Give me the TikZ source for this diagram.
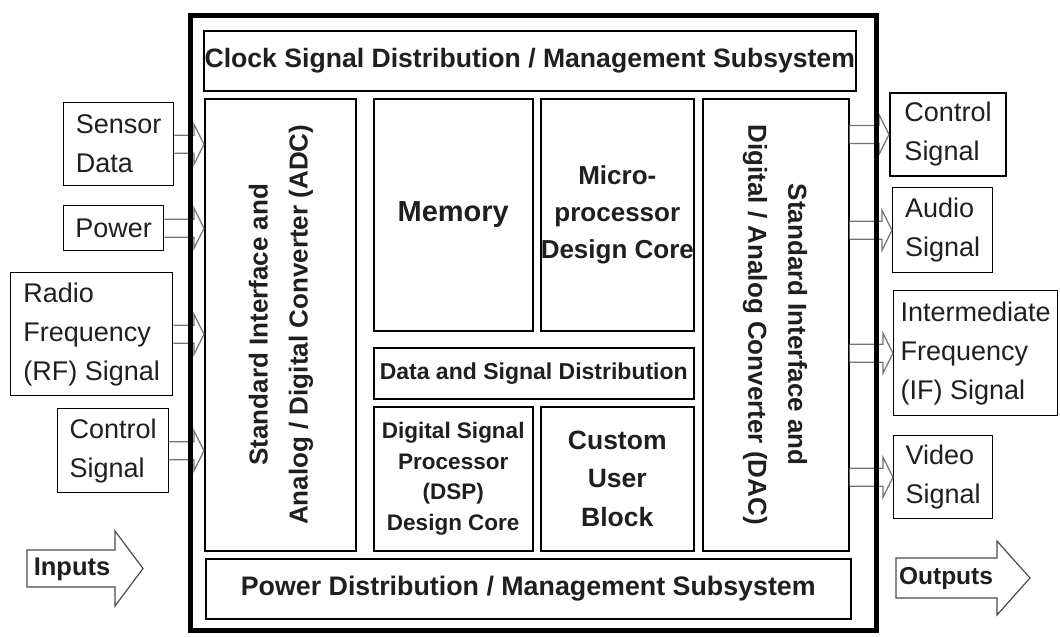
\documentclass[tikz,border=0pt]{standalone}
\usepackage{fontspec}
\setmainfont{Liberation Sans}
\usetikzlibrary{calc}
\newcommand\blockarr[2]{\draw[blk] let \p1=(#1), \p2=(#2) in
  (\x1,\y1+9pt) -- (\x2-10pt,\y1+9pt) -- (\x2-10pt,\y1+20pt) -- (\x2,\y1)
  -- (\x2-10pt,\y1-20pt) -- (\x2-10pt,\y1-9pt) -- (\x1,\y1-9pt);}
\begin{document}
\begin{tikzpicture}[x=1pt,y=-1pt,
  box/.style={draw=black, line width=1.5pt, inner sep=0pt, anchor=north west, align=center, text=black!88},
  blockbold/.style={box, font=\bfseries\fontsize{26}{37}\selectfont},
  lbl/.style={box, line width=1.4pt, align=left, font=\fontsize{27}{39}\selectfont},
  blk/.style={draw=black!55, fill=white, line width=1.2pt, line join=miter},
  bigarr/.style={draw=black!70, fill=white, line width=1.2pt, line join=miter},
]
\useasboundingbox (0,0) rectangle (1060,637);

% inner blocks
\node[blockbold, minimum width=652pt, minimum height=60pt, font=\bfseries\fontsize{26.6}{30}\selectfont] (clock) at (203,30) {Clock Signal Distribution / Management Subsystem};
\node[blockbold, minimum width=151pt, minimum height=452pt] (adc) at (204,98)
  {\rotatebox{90}{\begin{tabular}{@{}c@{}}Standard Interface and\\[3pt]Analog / Digital Converter (ADC)\end{tabular}}};
\node[blockbold, minimum width=159pt, minimum height=232pt, font=\bfseries\fontsize{29}{36}\selectfont] (mem) at (373,98) {Memory};
\node[blockbold, minimum width=153pt, minimum height=232pt] (micro) at (540,98) {Micro-\\processor\\Design Core};
\node[blockbold, minimum width=320pt, minimum height=51pt, font=\bfseries\fontsize{23}{30}\selectfont] (dsd) at (373,347) {Data and Signal Distribution};
\node[blockbold, minimum width=159pt, minimum height=144pt, font=\bfseries\fontsize{22.5}{30.5}\selectfont] (dsp) at (373,406) {Digital Signal\\Processor\\(DSP)\\Design Core};
\node[blockbold, minimum width=153pt, minimum height=144pt, font=\bfseries\fontsize{26.5}{38.5}\selectfont] (cub) at (540,406) {Custom\\User\\Block};
\node[blockbold, minimum width=146pt, minimum height=452pt] (dac) at (702,98)
  {\rotatebox{-90}{\begin{tabular}{@{}c@{}}Standard Interface and\\[3pt]Digital / Analog Converter (DAC)\end{tabular}}};
\node[blockbold, minimum width=645pt, minimum height=60pt, font=\bfseries\fontsize{26.8}{30}\selectfont] (pwr) at (205,558) {Power Distribution / Management Subsystem};

% input labels
\node[lbl, minimum width=110pt, minimum height=83pt] (sensor) at (63,102) {Sensor\\Data};
\node[lbl, minimum width=100pt, minimum height=45pt] (powerin) at (63,205) {Power};
\node[lbl, minimum width=162pt, minimum height=123pt] (rf) at (10,272) {Radio\\Frequency\\(RF) Signal};
\node[lbl, minimum width=111pt, minimum height=84pt] (ctrlin) at (57,408) {Control\\Signal};

% output labels
\node[lbl, line width=2pt, minimum width=116pt, minimum height=83pt] (ctrlout) at (889,92) {Control\\Signal};
\node[lbl, minimum width=100pt, minimum height=85pt] (audio) at (892,187) {Audio\\Signal};
\node[lbl, minimum width=164pt, minimum height=125pt] (ifs) at (893,290) {Intermediate\\Frequency\\(IF) Signal};
\node[lbl, minimum width=99pt, minimum height=83pt] (video) at (893,435) {Video\\Signal};

% block arrows into / out of the chip
\blockarr{sensor.east}{adc.west |- sensor.east}
\blockarr{powerin.east}{adc.west |- powerin.east}
\blockarr{rf.east}{adc.west |- rf.east}
\blockarr{ctrlin.east}{adc.west |- ctrlin.east}
\blockarr{dac.east |- ctrlout.west}{ctrlout.west}
\blockarr{dac.east |- audio.west}{audio.west}
\blockarr{dac.east |- ifs.west}{ifs.west}
\blockarr{dac.east |- video.west}{video.west}

% chip outline
\node[draw=black, line width=5pt, inner sep=0pt, minimum width=686pt, minimum height=615pt, anchor=north west] (chip) at (188,13) {};

% Inputs / Outputs big arrows
\draw[bigarr] (27,550) -- (115,550) -- (115,531) -- (143,568.5) -- (115,606) -- (115,587) -- (27,587) -- cycle;
\node[font=\bfseries\fontsize{25.5}{30}\selectfont, text=black!88] (inputs) at (72,569) {Inputs};
\draw[bigarr] (896,558) -- (997,558) -- (997,541) -- (1030,578) -- (997,615) -- (997,598) -- (896,598) -- cycle;
\node[font=\bfseries\fontsize{24.5}{30}\selectfont, text=black!88] (outputs) at (946,578) {Outputs};
\end{tikzpicture}
\end{document}
